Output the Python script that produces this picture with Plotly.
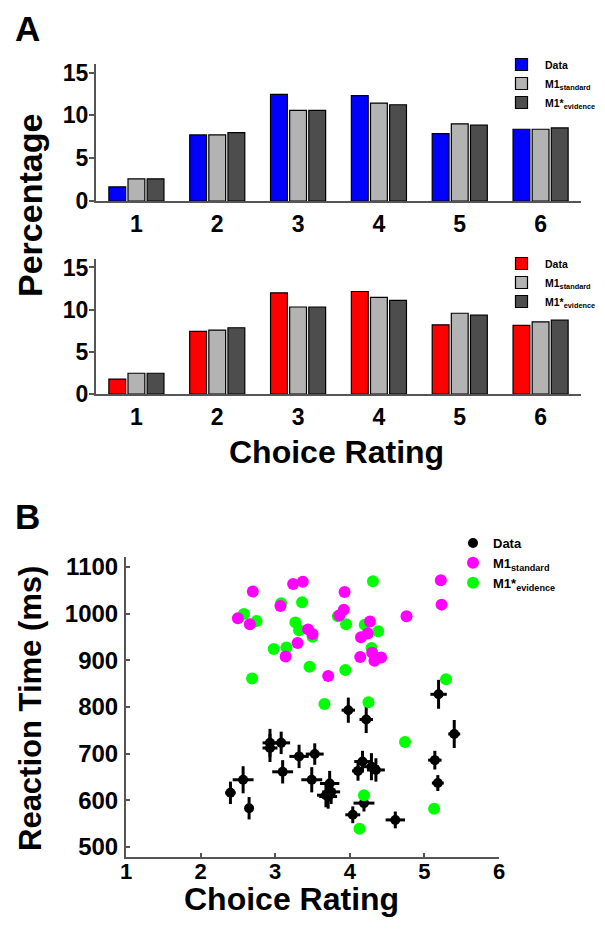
import plotly.graph_objects as go

# Panel A: percentage of choices per rating
ratings = [1, 2, 3, 4, 5, 6]
top_data = [1.65, 7.72, 12.46, 12.30, 7.87, 8.38]
top_m1 = [2.59, 7.72, 10.58, 11.44, 9.01, 8.38]
top_m1s = [2.59, 7.99, 10.58, 11.24, 8.85, 8.54]
bot_data = [1.76, 7.42, 11.99, 12.15, 8.20, 8.13]
bot_m1 = [2.46, 7.58, 10.31, 11.45, 9.57, 8.55]
bot_m1s = [2.46, 7.85, 10.31, 11.09, 9.34, 8.75]

# Panel B: mean reaction time vs mean choice rating
data_x = [3.98, 4.22, 2.93, 2.93, 3.08, 3.32, 3.53, 2.57, 3.10, 2.65, 3.49, 3.73,
          3.68, 3.71, 3.75, 4.17, 4.11, 4.29, 4.35, 4.19, 4.04, 4.61, 5.14, 5.18,
          5.19, 5.40, 2.40]
data_y = [793, 773, 723, 712, 723, 694, 699, 644, 661, 583, 644, 636,
          611, 608, 618, 683, 663, 672, 665, 594, 569, 558, 686, 637,
          827, 742, 616]
data_xerr = [0.09, 0.09, 0.10, 0.10, 0.12, 0.13, 0.12, 0.14, 0.14, 0.05, 0.14, 0.13,
             0.12, 0.12, 0.12, 0.11, 0.08, 0.10, 0.12, 0.14, 0.10, 0.13, 0.09, 0.08,
             0.11, 0.08, 0.07]
data_yerr = [27, 29, 30, 30, 24, 25, 23, 29, 25, 24, 27, 27,
             26, 26, 26, 23, 21, 29, 25, 18, 18, 18, 20, 17,
             31, 30, 24]

m1_x = [2.50, 2.66, 2.70, 3.07, 3.24, 3.37, 3.30, 3.14, 3.44, 3.50, 3.71, 3.86,
        3.92, 3.93, 4.14, 4.15, 4.24, 4.27, 4.30, 4.33, 4.42, 4.76, 5.22, 5.23]
m1_y = [990, 977, 1047, 1016, 1063, 1068, 937, 908, 966, 956, 866, 996,
        1008, 1046, 907, 949, 957, 983, 916, 899, 906, 994, 1071, 1019]

m1s_x = [2.58, 2.75, 2.69, 3.08, 3.36, 3.27, 3.32, 2.98, 3.15, 3.50, 3.46, 3.66,
         3.84, 3.95, 3.94, 4.20, 4.38, 4.29, 4.31, 4.25, 5.29, 4.74, 4.19, 4.13,
         5.13]
m1s_y = [999, 984, 861, 1022, 1024, 981, 964, 924, 927, 950, 886, 806,
         994, 977, 879, 976, 962, 926, 1069, 810, 859, 725, 611, 539,
         582]

# the page body has an 8px margin, so the figure is 8px smaller and offset
OFF = 8
W, H = 605 - OFF, 931 - OFF
bold = "<b>%s</b>"
lab_m1 = "<b>M1<sub>standard</sub></b>"
lab_m1s = "<b>M1*<sub>evidence</sub></b>"

fig = go.Figure()

def bars(vals, color, name, xa, ya, leg, rank):
    fig.add_trace(go.Bar(x=ratings, y=vals, name=name, xaxis=xa, yaxis=ya,
                         marker=dict(color=color, line=dict(color="black", width=1.2)),
                         legend=leg, legendrank=rank))

bars(top_data, "#0000ff", bold % "Data", "x", "y", "legend", 1)
bars(top_m1, "#b3b3b3", lab_m1, "x", "y", "legend", 2)
bars(top_m1s, "#4d4d4d", lab_m1s, "x", "y", "legend", 3)
bars(bot_data, "#ff0000", bold % "Data", "x2", "y2", "legend2", 1)
bars(bot_m1, "#b3b3b3", lab_m1, "x2", "y2", "legend2", 2)
bars(bot_m1s, "#4d4d4d", lab_m1s, "x2", "y2", "legend2", 3)

fig.add_trace(go.Scatter(
    x=data_x, y=data_y, mode="markers", name=bold % "Data", xaxis="x3", yaxis="y3",
    marker=dict(color="black", size=10),
    error_x=dict(type="data", array=data_xerr, color="black", thickness=3, width=0),
    error_y=dict(type="data", array=data_yerr, color="black", thickness=3, width=0),
    legend="legend3", legendrank=1))
fig.add_trace(go.Scatter(
    x=m1s_x, y=m1s_y, mode="markers", name=lab_m1s, xaxis="x3", yaxis="y3",
    marker=dict(color="#00ff00", size=12), legend="legend3", legendrank=3))
fig.add_trace(go.Scatter(
    x=m1_x, y=m1_y, mode="markers", name=lab_m1, xaxis="x3", yaxis="y3",
    marker=dict(color="#ff00ff", size=12), legend="legend3", legendrank=2))

def px(v):
    return (v - OFF) / W

def py(v):
    return 1 - (v - OFF) / H

axis_style = dict(showline=True, linecolor="#555555", linewidth=2, showgrid=False,
                  zeroline=False, automargin=False, tickfont=dict(size=23, color="black"))

def note(text, x, y, size, angle=0):
    return dict(text=text, x=px(x), y=py(y), xref="paper", yref="paper",
                xanchor="center", yanchor="middle", showarrow=False,
                textangle=angle, font=dict(size=size, color="black"))

leg_style = dict(xanchor="left", yanchor="top", bgcolor="rgba(0,0,0,0)", tracegroupgap=0)

fig.update_layout(
    template="none",
    width=W, height=H, margin=dict(l=0, r=0, t=0, b=0),
    paper_bgcolor="white", plot_bgcolor="white",
    font=dict(family="Liberation Sans", color="black"),
    barmode="group", bargap=0.29, bargroupgap=0.12,
    xaxis=dict(axis_style, domain=[px(96), px(581)], range=[0.5, 6.5], anchor="y",
               tickvals=ratings, ticktext=[bold % r for r in ratings], ticks="",
               ticklabelstandoff=1),
    yaxis=dict(axis_style, domain=[py(201), py(64)], range=[0, 16], anchor="x",
               tickvals=[0, 5, 10, 15], ticktext=[bold % t for t in [0, 5, 10, 15]],
               ticks="outside", ticklen=5, tickwidth=2, tickcolor="#555555",
               ticklabelstandoff=-4),
    xaxis2=dict(axis_style, domain=[px(96), px(581)], range=[0.5, 6.5], anchor="y2",
                tickvals=ratings, ticktext=[bold % r for r in ratings], ticks="",
                ticklabelstandoff=1),
    yaxis2=dict(axis_style, domain=[py(394), py(259)], range=[0, 16], anchor="x2",
                tickvals=[0, 5, 10, 15], ticktext=[bold % t for t in [0, 5, 10, 15]],
                ticks="outside", ticklen=5, tickwidth=2, tickcolor="#555555",
                ticklabelstandoff=-4),
    xaxis3=dict(axis_style, domain=[px(126), px(499)], range=[1, 6], anchor="y3",
                tickvals=ratings, ticktext=[bold % r for r in ratings],
                ticks="inside", ticklen=4, tickwidth=2, tickcolor="#555555",
                tickfont=dict(size=22, color="black"), ticklabelstandoff=-6),
    yaxis3=dict(axis_style, domain=[py(857), py(557)], range=[478.6, 1121], anchor="x3",
                tickvals=[500, 600, 700, 800, 900, 1000, 1100],
                ticktext=[bold % t for t in [500, 600, 700, 800, 900, 1000, 1100]],
                ticks="inside", ticklen=4, tickwidth=2, tickcolor="#555555",
                tickfont=dict(size=24, color="black"), ticklabelstandoff=1),
    legend=dict(leg_style, x=px(498), y=py(50), font=dict(size=10.5), itemwidth=37),
    legend2=dict(leg_style, x=px(498), y=py(249), font=dict(size=10.5), itemwidth=37),
    legend3=dict(leg_style, x=px(453), y=py(528), font=dict(size=13), itemwidth=30),
    annotations=[
        note("<b>A</b>", 27, 28, 35),
        note("<b>B</b>", 27, 517, 35),
        note("<b>Percentage</b>", 30, 206, 34, -90),
        note("<b>Choice Rating</b>", 336, 452, 32),
        note("<b>Reaction Time (ms)</b>", 30, 709, 31, -90),
        note("<b>Choice Rating</b>", 291, 899, 32),
    ],
)

fig.write_html("out.html")
